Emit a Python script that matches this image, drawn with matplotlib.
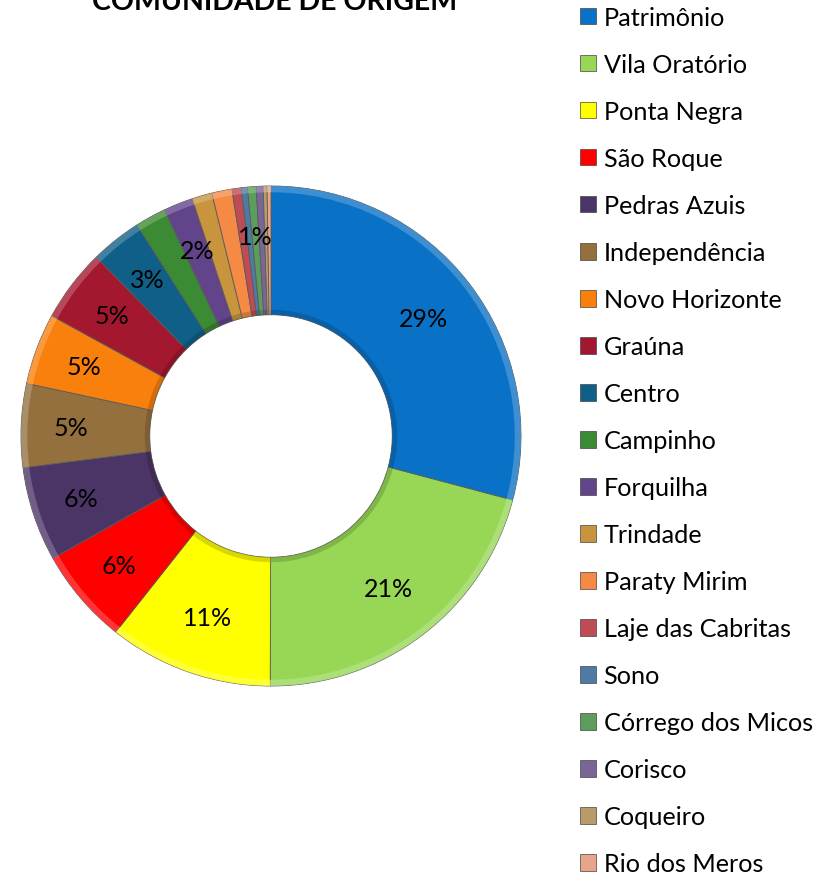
import numpy as np
import matplotlib
matplotlib.use("Agg")
import matplotlib.pyplot as plt
from matplotlib.patches import Patch, Wedge

plt.rcParams['font.family'] = ['Lato', 'DejaVu Sans']

communities = ['Patrimônio', 'Vila Oratório', 'Ponta Negra', 'São Roque', 'Pedras Azuis',
               'Independência', 'Novo Horizonte', 'Graúna', 'Centro', 'Campinho',
               'Forquilha', 'Trindade', 'Paraty Mirim', 'Laje das Cabritas', 'Sono',
               'Córrego dos Micos', 'Corisco', 'Coqueiro', 'Rio dos Meros']
shares = [29.1, 20.9, 10.6, 6.2, 6.1, 5.4, 4.6, 4.7, 3.3, 2.0,
          1.9, 1.3, 1.3, 0.6, 0.4, 0.55, 0.45, 0.25, 0.25]
# only some slices carry a label in the original
pct_labels = ['29%', '21%', '11%', '6%', '6%', '5%', '5%', '5%', '3%', '',
              '2%', '', '', '', '', '1%', '', '', '']
colors = ['#0A72C6', '#98D756', '#FFFF00', '#FF0000', '#4B3466',
          '#94703F', '#F9800C', '#A3182E', '#0F5F88', '#3B8A34',
          '#62448A', '#C8943E', '#F48A44', '#BF4B55', '#4F7AA3',
          '#5C9C5C', '#7A6598', '#B89A6B', '#E9A58A']

title = 'COMUNIDADE DE ORIGEM'

fig = plt.figure(figsize=(8.21, 8.87), dpi=100)
W, H = 821, 887
cx, cy, R = 271, 437, 250
ax = fig.add_axes([(cx - R) / W, 1 - (cy + R) / H, 2 * R / W, 2 * R / H])

ring = 0.515
wedges, _ = ax.pie(shares, colors=colors, startangle=90, counterclock=False,
                   radius=1.0, wedgeprops=dict(width=ring, edgecolor='#5a5a5a',
                                               linewidth=0.6))

# soft bevel: lighter rim on the outer edge, darker on the inner edge
for w in wedges:
    c = np.array(matplotlib.colors.to_rgb(w.get_facecolor()))
    light = c + (1 - c) * 0.3
    dark = c * 0.7
    ax.add_patch(Wedge((0, 0), 1.0, w.theta1, w.theta2, width=0.025,
                       facecolor=light, edgecolor='none', alpha=0.7))
    ax.add_patch(Wedge((0, 0), 1 - ring + 0.02, w.theta1, w.theta2, width=0.02,
                       facecolor=dark, edgecolor='none', alpha=0.5))

for w, lab in zip(wedges, pct_labels):
    if not lab:
        continue
    ang = np.deg2rad((w.theta1 + w.theta2) / 2)
    r = 0.77 if len(lab) > 2 else 0.8
    ax.text(r * np.cos(ang), r * np.sin(ang), lab, ha='center', va='center',
            fontsize=18, color='black')

ax.set_xlim(-1, 1)
ax.set_ylim(-1, 1)
ax.set_aspect('equal')
ax.axis('off')

# title sits partly above the top edge, as in the original export
fig.text(275 / W, 1 - 10 / H, title, ha='center', va='baseline',
         fontsize=20.5, fontweight='bold')

handles = [Patch(facecolor=c, edgecolor='#444444', linewidth=0.5) for c in colors]
fig.legend(handles, communities, loc='upper left', bbox_to_anchor=(575 / W, 1 - 2 / H),
           frameon=False, fontsize=18.2, handlelength=0.63, handleheight=0.63,
           handletextpad=0.3, labelspacing=0.95, borderaxespad=0, borderpad=0.2)

fig.savefig('out.png', dpi=100)
